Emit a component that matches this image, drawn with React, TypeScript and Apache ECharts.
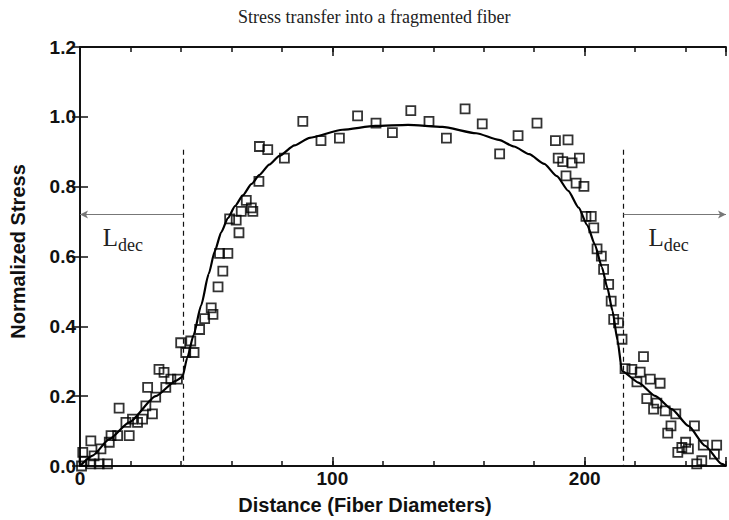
import React, { useEffect, useRef } from "react";
import * as echarts from "echarts";

// Measured data points (distance in fiber diameters, normalized stress)
const pointX = [
  0.6, 1.1, 1.6, 4.3, 5.6, 8.3, 4.3, 7.6, 10.9, 11.6, 12.3, 14.9, 15.5, 18.2, 19.5, 20.8, 22.8, 24.8, 26.1, 28.7,
  26.8, 30, 31.3, 33.3, 34, 36, 38.6, 39.9, 41.9, 43.9, 45.2,
  47.4, 49.4, 52, 52.7, 54.7, 56.6, 55.3, 58.6, 59.3, 61.9, 63, 63.9, 65.9, 67.9, 68.5, 70.9,
  71.1, 74.4, 81, 88.3, 95.5, 102.8, 110, 117.3, 123.8, 131.1, 138.3, 145.2, 152.6, 159.4, 166.3,
  173.6, 181.1, 188.4, 193.4, 189.5, 191.3, 195, 197.9, 192.6, 196.6, 199.7, 200.5, 202.6, 203.6, 204.9, 206.6, 207.5, 209.5,
  210.5, 211.5, 213.4, 214.8, 223.3, 216, 218.7, 222, 220.7, 226, 229.9, 224.6, 228.6, 227.3, 231.9, 236.1, 234.2, 232.9,
  243.5, 240, 238.5, 236.9, 241.1, 247, 252.3, 251.4, 244.4, 246.4,
];
const pointY = [
  0.0, 0.039, 0.014, 0.072, 0.029, 0.049, 0.006, 0.006, 0.006, 0.068, 0.087, 0.087, 0.166, 0.125, 0.087, 0.134, 0.125, 0.134, 0.172, 0.149,
  0.225, 0.197, 0.277, 0.268, 0.225, 0.249, 0.249, 0.353, 0.325, 0.358, 0.325,
  0.391, 0.422, 0.453, 0.434, 0.513, 0.558, 0.609, 0.609, 0.708, 0.704, 0.668, 0.729, 0.761, 0.739, 0.729, 0.815,
  0.915, 0.906, 0.882, 0.987, 0.932, 0.939, 1.003, 0.982, 0.955, 1.018, 0.987, 0.939, 1.023, 0.98, 0.894,
  0.946, 0.982, 0.932, 0.934, 0.882, 0.872, 0.868, 0.882, 0.831, 0.81, 0.801, 0.715, 0.715, 0.682, 0.622, 0.601, 0.563, 0.52,
  0.472, 0.42, 0.41, 0.363, 0.313, 0.279, 0.277, 0.269, 0.241, 0.249, 0.237, 0.193, 0.18, 0.163, 0.158, 0.149, 0.115, 0.094,
  0.115, 0.068, 0.053, 0.039, 0.049, 0.06, 0.06, 0.034, 0.006, 0.015,
];

// Fitted model curve
const curveX = [
  0, 5, 11.6, 19.5, 30, 38, 40.6, 42.5, 45, 48, 51, 53.4, 56, 58.6, 61.5, 64.5, 68, 71, 75, 79, 85, 91, 104, 117,
  130, 143.6, 157, 166, 172, 178, 184, 189, 193.5, 197.6, 201, 204, 206.8, 209, 211, 213, 214.8, 221.3, 227.9,
  234.5, 241.1, 247.7, 254.3, 256,
];
const curveY = [
  0, 0.03, 0.077, 0.125, 0.2, 0.244, 0.255, 0.31, 0.375, 0.46, 0.55, 0.615, 0.67, 0.71, 0.745, 0.775, 0.808, 0.833,
  0.863, 0.888, 0.918, 0.94, 0.963, 0.974, 0.977, 0.971, 0.953, 0.934, 0.915, 0.893, 0.865, 0.83, 0.788, 0.74, 0.69,
  0.635, 0.57, 0.51, 0.445, 0.36, 0.272, 0.239, 0.201, 0.163, 0.115, 0.058, 0.006, 0,
];

// Debonding length markers
const decLeftX = 40.8;
const decRightX = 215.4;
const decTopY = 0.906;
const arrowY = 0.72;
const xMin = 0;
const xMax = 256;
const yMin = 0;
const yMax = 1.2;

const titleText = "Stress transfer into a fragmented fiber";
const xName = "Distance (Fiber Diameters)";
const yName = "Normalized Stress";

const SANS = "'Liberation Sans', Arial, Helvetica, sans-serif";
const SERIF = "'Liberation Serif', 'Times New Roman', serif";

export default function App() {
  const ref = useRef<HTMLDivElement>(null);

  useEffect(() => {
    if (!ref.current) return;
    const chart = echarts.init(ref.current, undefined, { renderer: "svg" });

    const axisLine = { show: true, lineStyle: { color: "#111", width: 1.8 } };
    const baseX = { type: "value", min: xMin, max: xMax, splitLine: { show: false } };
    const baseY = { type: "value", min: yMin, max: yMax, interval: 0.2, splitLine: { show: false } };
    const tickStyle = { color: "#111", width: 1.5 };

    const scatterData = pointX.map((x, i) => [x, pointY[i]]);
    const curveData = curveX.map((x, i) => [x, curveY[i]]);

    const textPoint = (x: number, y: number, txt: string, size: number) => ({
      coord: [x, y],
      symbol: "circle",
      symbolSize: 1,
      itemStyle: { color: "rgba(0,0,0,0)" },
      label: {
        show: true,
        position: "inside",
        formatter: txt,
        fontFamily: SERIF,
        fontSize: size,
        color: "#222",
      },
    });

    const labelFont = { fontFamily: SANS, fontSize: 19, fontWeight: "bold", color: "#111" };

    chart.setOption({
      animation: false,
      backgroundColor: "#fff",
      title: {
        text: titleText,
        left: 233,
        top: 3,
        textStyle: { fontFamily: SERIF, fontSize: 18, fontWeight: "normal", color: "#222" },
      },
      grid: { left: 80, right: 2, top: 47, bottom: 53, containLabel: false },
      xAxis: [
        {
          ...baseX,
          position: "bottom",
          interval: 20,
          axisLine,
          axisTick: { show: true, inside: true, length: 5, lineStyle: tickStyle },
          axisLabel: {
            show: true,
            formatter: (v: number) => (v % 100 === 0 ? String(v) : ""),
            ...labelFont,
            margin: 3,
          },
          name: xName,
          nameLocation: "middle",
          nameGap: 29,
          nameTextStyle: { ...labelFont, fontSize: 20, padding: [0, 76, 0, 0] },
        },
        {
          ...baseX,
          position: "bottom",
          interval: 100,
          axisLine: { show: false },
          axisTick: { show: true, inside: true, length: 9, lineStyle: tickStyle },
          axisLabel: { show: false },
        },
        {
          ...baseX,
          position: "top",
          interval: 20,
          axisLine,
          axisTick: { show: true, inside: true, length: 5, lineStyle: tickStyle },
          axisLabel: { show: false },
        },
        {
          ...baseX,
          position: "top",
          interval: 100,
          axisLine: { show: false },
          axisTick: { show: true, inside: true, length: 9, lineStyle: tickStyle },
          axisLabel: { show: false },
        },
      ],
      yAxis: [
        {
          ...baseY,
          position: "left",
          axisLine,
          axisTick: { show: true, inside: true, length: 8, lineStyle: tickStyle },
          axisLabel: {
            show: true,
            formatter: (v: number) => v.toFixed(1),
            ...labelFont,
            margin: 4,
          },
          name: yName,
          nameLocation: "middle",
          nameGap: 52,
          nameRotate: 90,
          nameTextStyle: { ...labelFont, fontSize: 20, padding: [0, 0, 0, 10] },
        },
        {
          ...baseY,
          position: "right",
          axisLine,
          axisTick: { show: true, inside: true, length: 8, lineStyle: tickStyle },
          axisLabel: { show: false },
        },
      ],
      series: [
        {
          type: "line",
          name: "fit",
          data: curveData,
          xAxisIndex: 0,
          yAxisIndex: 0,
          showSymbol: false,
          symbol: "none",
          smooth: 0.2,
          smoothMonotone: "x",
          lineStyle: { color: "#000", width: 2.2 },
          z: 2,
          markLine: {
            silent: true,
            symbol: ["none", "none"],
            label: { show: false },
            lineStyle: { color: "#111", width: 1.2, type: [5, 4] },
            data: [
              [{ coord: [decLeftX, decTopY] }, { coord: [decLeftX, yMin] }],
              [{ coord: [decRightX, decTopY] }, { coord: [decRightX, yMin] }],
            ],
          },
        },
        {
          type: "scatter",
          name: "data",
          data: scatterData,
          xAxisIndex: 0,
          yAxisIndex: 0,
          symbol: "rect",
          symbolSize: 9,
          itemStyle: { color: "rgba(255,255,255,0)", borderColor: "#000", borderWidth: 1.8 },
          z: 3,
          markLine: {
            silent: true,
            symbol: ["none", "arrow"],
            symbolSize: [6, 8],
            label: { show: false },
            lineStyle: { color: "#777", width: 1.2, type: "solid" },
            data: [
              [{ coord: [decLeftX, arrowY] }, { coord: [xMin, arrowY] }],
              [{ coord: [decRightX, arrowY] }, { coord: [xMax, arrowY] }],
            ],
          },
          markPoint: {
            silent: true,
            data: [
              textPoint(12.0, 0.655, "L", 25),
              textPoint(20.0, 0.632, "dec", 18),
              textPoint(228.3, 0.655, "L", 25),
              textPoint(236.3, 0.632, "dec", 18),
            ],
          },
        },
      ],
    });

    return () => chart.dispose();
  }, []);

  return (
    <div
      ref={ref}
      style={{ position: "absolute", left: 0, top: 0, width: 729, height: 520, background: "#fff" }}
    />
  );
}
